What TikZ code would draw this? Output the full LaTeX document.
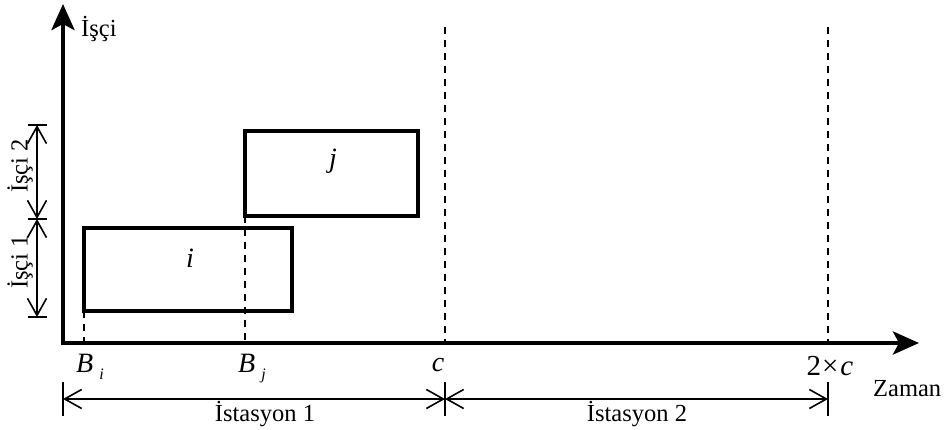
\documentclass[tikz,border=0pt]{standalone}
\usepackage{fontspec}
\setmainfont{Liberation Serif}
\usetikzlibrary{arrows.meta}
\begin{document}
\begin{tikzpicture}[x=1pt,y=-1pt,
  axis/.style={line width=4.5pt,-{Stealth[length=26pt,width=23pt,inset=6pt]}},
  guide/.style={line width=1.6pt,dash pattern=on 7pt off 6pt},
  task/.style={line width=3.2pt},
  dimarrow/.style={line width=1.4pt,{Straight Barb[length=17pt,width=19pt,line width=1.6pt]}-{Straight Barb[length=17pt,width=19pt,line width=1.6pt]}},
  tick/.style={line width=1.6pt},
  lbl/.style={font=\fontsize{24.5}{24.5}\selectfont,inner sep=0pt},
  mlbl/.style={font=\fontsize{28}{28}\selectfont\itshape,inner sep=0pt}
]
\useasboundingbox (0,0) rectangle (946,430);

% axes
\coordinate (ytip) at (63,4);
\coordinate (xtip) at (919,343);
\draw[axis] (63,345) -- (ytip);
\draw[axis] (61,343) -- (xtip);
\node[lbl,anchor=west] (ylab) at (81,29) {İşçi};
\node[lbl,anchor=west] (xlab) at (873,389) {Zaman};

% guides at B_i, B_j, c and 2c
\coordinate (gi1) at (84,311);  \coordinate (gi2) at (84,343);
\coordinate (gj1) at (245,216); \coordinate (gj2) at (245,343);
\coordinate (gc1) at (445,27);  \coordinate (gc2) at (445,343);
\coordinate (g2c1) at (828,27); \coordinate (g2c2) at (828,343);
\draw[guide] (gi1) -- (gi2);
\draw[guide] (gj1) -- (gj2);
\draw[guide] (gc1) -- (gc2);
\draw[guide] (g2c1) -- (g2c2);

% tasks
\draw[task] (84,228) rectangle (292,311);
\draw[task] (245,131) rectangle (418,216);
\node[mlbl] (ti) at (190,258) {i};
\node[mlbl] (tj) at (333,161) {j};

% time labels
\node[mlbl,anchor=base west] (bi) at (76,373) {B\hspace{6pt}\raisebox{-7pt}{\fontsize{16}{16}\selectfont i}};
\node[mlbl,anchor=base west] (bj) at (238,373) {B\hspace{6pt}\raisebox{-7pt}{\fontsize{16}{16}\selectfont j}};
\node[mlbl,anchor=base] (cl) at (438,372) {c};
\node[lbl,anchor=base] (c2l) at (830,376) {\fontsize{29}{29}\selectfont 2\kern1pt×\kern2pt\itshape c};

% station dimensions
\coordinate (s0) at (63,399);
\coordinate (s1) at (445,399);
\coordinate (s2) at (828,399);
\draw[tick] (63,382) -- (63,416);
\draw[tick] (445,382) -- (445,416);
\draw[tick] (828,382) -- (828,416);
\draw[dimarrow] (s0) -- (s1);
\draw[dimarrow] (s1) -- (s2);
\node[lbl,anchor=base] (st1) at (265,422) {İstasyon 1};
\node[lbl,anchor=base] (st2) at (637,422) {İstasyon 2};

% worker dimensions
\coordinate (w0) at (37,125);
\coordinate (w1) at (37,219);
\coordinate (w2) at (37,317);
\draw[tick] (28,125) -- (47,125);
\draw[tick] (28,219) -- (47,219);
\draw[tick] (28,317) -- (47,317);
\draw[dimarrow] (w0) -- (w1);
\draw[dimarrow] (w1) -- (w2);
\node[lbl,rotate=90] (wl2) at (20,166) {İşçi 2};
\node[lbl,rotate=90] (wl1) at (20,262) {İşçi 1};
\end{tikzpicture}
\end{document}
